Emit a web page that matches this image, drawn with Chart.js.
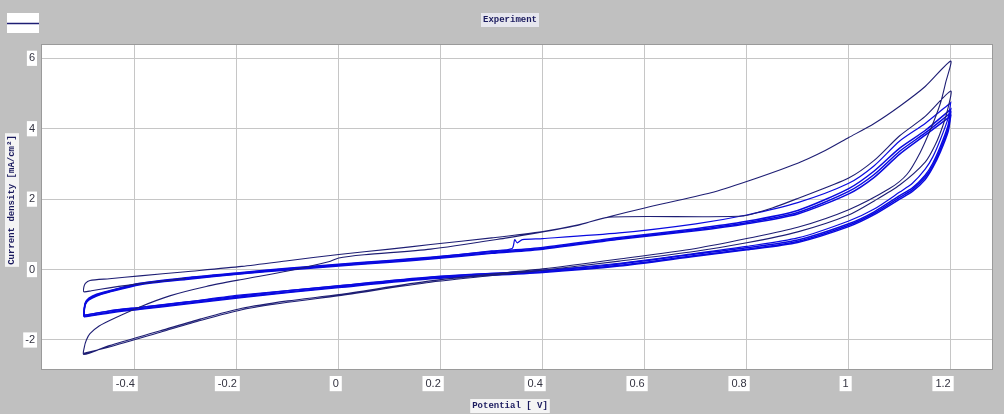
<!DOCTYPE html>
<html>
<head>
<meta charset="utf-8">
<script src="https://cdn.jsdelivr.net/npm/chart.js@4.4.0/dist/chart.umd.min.js"></script>
<style>
  html, body { margin: 0; padding: 0; background: #c0c0c0; }
</style>
</head>
<body>
<canvas id="cv" width="1004" height="414"></canvas>
<script>
// tick values
const potTicks = [-0.4, -0.2, 0, 0.2, 0.4, 0.6, 0.8, 1, 1.2]
const curTicks = [-2, 0, 2, 4, 6]

// first run (thin dark line): short start sweep, then two full cycles
const startPot = [-0.3, -0.39, -0.45, -0.485, -0.5]
const startCur = [-0.25, -0.40, -0.52, -0.6, -0.63]

const c1FwdPot = [-0.5, -0.497, -0.488, -0.45, -0.39, -0.3, -0.19, -0.1, 0, 0.1, 0.18, 0.3, 0.4, 0.47, 0.53, 0.6, 0.73, 0.8, 0.9, 0.95, 1.0, 1.05, 1.1, 1.15, 1.2]
const c1FwdCur = [-0.5, -0.39, -0.31, -0.26, -0.18, -0.06, 0.09, 0.25, 0.43, 0.58, 0.71, 0.9, 1.08, 1.27, 1.5, 1.75, 2.18, 2.5, 3.02, 3.35, 3.75, 4.15, 4.64, 5.2, 5.92]
const c1RevPot = [1.19, 1.18, 1.163, 1.14, 1.114, 1.08, 1.0, 0.9, 0.8, 0.7, 0.55, 0.4, 0.18, 0, -0.1, -0.19, -0.27, -0.35, -0.45, -0.5]
const c1RevCur = [5.3, 4.73, 4.07, 3.32, 2.7, 2.3, 1.7, 1.2, 0.88, 0.6, 0.3, 0.02, -0.32, -0.71, -0.89, -1.1, -1.4, -1.74, -2.16, -2.41]

const c2FwdPot = [-0.499, -0.495, -0.488, -0.47, -0.44, -0.39, -0.33, -0.26, -0.19, -0.1, -0.02, 0, 0.05, 0.18, 0.33, 0.4, 0.47, 0.53, 0.79, 0.85, 0.9, 1.0, 1.05, 1.1, 1.15, 1.2]
const c2FwdCur = [-2.2, -2.0, -1.82, -1.6, -1.38, -1.06, -0.74, -0.48, -0.28, -0.04, 0.22, 0.33, 0.42, 0.58, 0.9, 1.07, 1.26, 1.49, 1.52, 1.75, 2.02, 2.6, 3.1, 3.8, 4.35, 5.07]
const c2RevPot = [1.195, 1.185, 1.17, 1.15, 1.1, 1.05, 1.0, 0.9, 0.8, 0.7, 0.55, 0.4, 0.18, 0, -0.1, -0.19, -0.27, -0.35, -0.45, -0.5]
const c2RevCur = [4.6, 4.1, 3.55, 3.05, 2.4, 1.95, 1.55, 1.07, 0.76, 0.52, 0.24, -0.02, -0.36, -0.74, -0.93, -1.14, -1.44, -1.78, -2.2, -2.38]

// later cycles (blue)
const fwdPot = [-0.5, -0.499, -0.497, -0.49, -0.475, -0.45, -0.39, -0.3, -0.19, -0.1, 0, 0.1, 0.18, 0.3, 0.4, 0.55, 0.7, 0.8, 0.9, 1.0, 1.05, 1.1, 1.15, 1.2]
const revPot = [1.2, 1.195, 1.18, 1.165, 1.15, 1.125, 1.1, 1.05, 1.0, 0.9, 0.8, 0.7, 0.55, 0.4, 0.18, 0, -0.19, -0.3, -0.39, -0.45, -0.5]

const b1FwdPot = [-0.5, -0.499, -0.497, -0.49, -0.475, -0.45, -0.39, -0.3, -0.19, -0.1, 0, 0.1, 0.18, 0.3, 0.34, 0.345, 0.35, 0.36, 0.4, 0.55, 0.7, 0.8, 0.9, 1.0, 1.05, 1.1, 1.15, 1.2]
const b1FwdCur = [-1.32, -1.1, -0.96, -0.83, -0.72, -0.61, -0.4, -0.24, -0.09, 0.03, 0.14, 0.25, 0.34, 0.53, 0.6, 0.85, 0.76, 0.85, 0.88, 1.04, 1.3, 1.55, 1.9, 2.45, 2.95, 3.65, 4.15, 4.74]
const b1RevCur = [4.74, 4.3, 3.7, 3.2, 2.85, 2.45, 2.2, 1.72, 1.38, 0.9, 0.66, 0.46, 0.18, -0.02, -0.22, -0.46, -0.72, -0.92, -1.07, -1.17, -1.3]

const b2FwdCur = [-1.3, -1.08, -0.94, -0.81, -0.7, -0.6, -0.39, -0.23, -0.08, 0.04, 0.15, 0.26, 0.35, 0.51, 0.63, 0.91, 1.16, 1.37, 1.68, 2.3, 2.8, 3.45, 3.95, 4.55]
const b2RevCur = [4.55, 4.1, 3.5, 3.02, 2.68, 2.32, 2.1, 1.64, 1.3, 0.84, 0.62, 0.44, 0.16, -0.03, -0.21, -0.46, -0.74, -0.93, -1.08, -1.18, -1.3]
const b3FwdCur = [-1.33, -1.12, -0.97, -0.84, -0.73, -0.62, -0.41, -0.26, -0.11, 0.01, 0.12, 0.23, 0.32, 0.48, 0.6, 0.88, 1.13, 1.33, 1.62, 2.22, 2.7, 3.36, 3.88, 4.45]
const b3RevCur = [4.45, 4.0, 3.42, 2.95, 2.62, 2.27, 2.05, 1.6, 1.26, 0.8, 0.58, 0.4, 0.12, -0.06, -0.24, -0.49, -0.77, -0.96, -1.11, -1.21, -1.33]
const b4FwdCur = [-1.34, -1.14, -0.99, -0.86, -0.75, -0.64, -0.43, -0.28, -0.12, -0.01, 0.1, 0.21, 0.3, 0.46, 0.58, 0.86, 1.1, 1.3, 1.58, 2.15, 2.62, 3.28, 3.82, 4.36]
const b4RevCur = [4.36, 3.92, 3.35, 2.9, 2.56, 2.22, 2.0, 1.56, 1.22, 0.77, 0.56, 0.38, 0.1, -0.08, -0.26, -0.51, -0.79, -0.98, -1.13, -1.23, -1.34]


function pts(pots, curs) {
  let out = []
  for (let k = 0; k < pots.length; k++) {
    for (let i = 0; i < pots[k].length; i++) {
      out.push({ x: pots[k][i], y: curs[k][i] })
    }
  }
  return out
}

function loop(label, data, color, width) {
  return {
    label: label,
    data: data,
    borderColor: color,
    borderWidth: width,
    pointRadius: 0,
    showLine: true,
    fill: false,
    tension: 0.25
  }
}

const navy = '#1e1e74'
const blue = '#0a0ae0'

const datasets = [
  loop('Experiment', pts([startPot, c1FwdPot, c1RevPot, c2FwdPot, c2RevPot],
    [startCur, c1FwdCur, c1RevCur, c2FwdCur, c2RevCur]), navy, 1.1),
  loop('cycle 3', pts([b1FwdPot, revPot], [b1FwdCur, b1RevCur]), blue, 1.2),
  loop('cycle 4', pts([fwdPot, revPot], [b2FwdCur, b2RevCur]), blue, 1.5),
  loop('cycle 5', pts([fwdPot, revPot], [b3FwdCur, b3RevCur]), blue, 1.5),
  loop('cycle 6', pts([fwdPot, revPot], [b4FwdCur, b4RevCur]), blue, 1.5)
]

const labelFont = { family: "'Liberation Mono', 'DejaVu Sans Mono', monospace", size: 9, weight: 'bold' }

function boxText(ctx, text, x, y, bg, rot) {
  ctx.save()
  ctx.translate(x, y)
  if (rot) ctx.rotate(rot)
  ctx.font = 'bold 9px ' + labelFont.family
  let w = ctx.measureText(text).width
  ctx.fillStyle = bg
  ctx.fillRect(-w / 2 - 2, -7, w + 4, 14)
  ctx.fillStyle = '#1a1a5e'
  ctx.textAlign = 'center'
  ctx.textBaseline = 'middle'
  ctx.fillText(text, 0, 0)
  ctx.restore()
}

const frame = {
  id: 'frame',
  beforeDraw(chart) {
    const ctx = chart.ctx
    const a = chart.chartArea
    ctx.save()
    ctx.fillStyle = '#c0c0c0'
    ctx.fillRect(0, 0, chart.width, chart.height)
    ctx.fillStyle = '#ffffff'
    ctx.fillRect(a.left, a.top, a.right - a.left, a.bottom - a.top)
    ctx.restore()
  },
  afterDraw(chart) {
    const ctx = chart.ctx
    const a = chart.chartArea
    ctx.save()
    ctx.strokeStyle = '#9a9a9a'
    ctx.lineWidth = 1
    ctx.strokeRect(a.left + 0.5, a.top + 0.5, a.right - a.left - 1, a.bottom - a.top - 1)

    // legend swatch
    ctx.fillStyle = '#ffffff'
    ctx.fillRect(7, 13, 32, 20)
    ctx.strokeStyle = navy
    ctx.lineWidth = 1.5
    ctx.beginPath()
    ctx.moveTo(7, 23.5)
    ctx.lineTo(39, 23.5)
    ctx.stroke()
    ctx.restore()

    boxText(ctx, 'Experiment', 510, 20, '#e6e6ee', 0)
    boxText(ctx, 'Potential [ V]', 510, 406, '#f4f4f4', 0)
    boxText(ctx, 'Current density [mA/cm\u00b2]', 12, 200, '#f4f4f4', -Math.PI / 2)
  }
}

const tickFont = { family: "'Liberation Sans', Arial, sans-serif", size: 11 }

new Chart(document.getElementById('cv'), {
  type: 'scatter',
  data: { datasets: datasets },
  options: {
    responsive: false,
    animation: false,
    layout: { padding: { top: 44, right: 11, left: 0, bottom: 0 } },
    plugins: {
      legend: { display: false },
      tooltip: { enabled: false }
    },
    scales: {
      x: {
        type: 'linear',
        min: -0.584,
        max: 1.283,
        afterFit: s => { s.height = 44 },
        afterBuildTicks: s => { s.ticks = potTicks.map(v => ({ value: v })) },
        grid: { color: '#c6c6c6', drawTicks: false },
        border: { display: false },
        ticks: {
          align: 'end',
          padding: 7,
          autoSkip: false,
          maxRotation: 0,
          color: '#333340',
          font: tickFont,
          showLabelBackdrop: true,
          backdropColor: '#ffffff',
          backdropPadding: { x: 3, y: 1 },
          callback: v => String(Math.round(v * 10) / 10)
        }
      },
      y: {
        type: 'linear',
        min: -2.852,
        max: 6.406,
        afterFit: s => { s.width = 41 },
        afterBuildTicks: s => { s.ticks = curTicks.map(v => ({ value: v })) },
        grid: { color: '#c6c6c6', drawTicks: false },
        border: { display: false },
        ticks: {
          padding: 6,
          autoSkip: false,
          color: '#333340',
          font: tickFont,
          showLabelBackdrop: true,
          backdropColor: '#ffffff',
          backdropPadding: { x: 2, y: 1 },
          callback: v => String(v)
        }
      }
    }
  },
  plugins: [frame]
})
</script>
</body>
</html>
